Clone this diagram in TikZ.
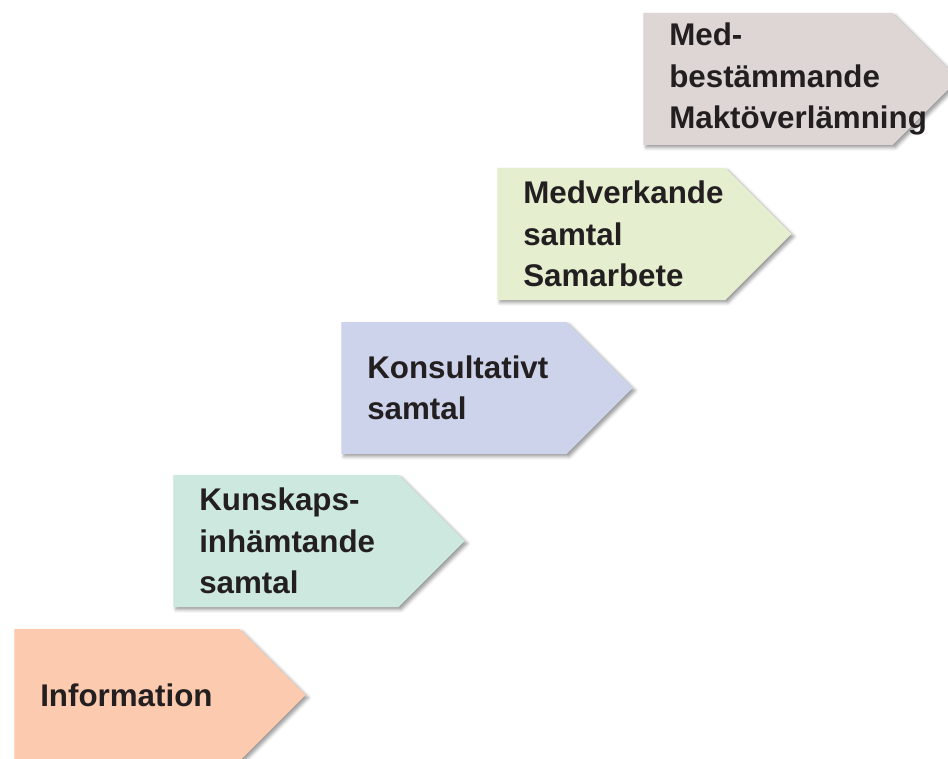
\documentclass[tikz,border=0pt]{standalone}
\usepackage{fontspec}
\setmainfont{Liberation Sans}
\usepackage{tikz}
\usetikzlibrary{shapes.symbols, shadows.blur}

\definecolor{infocolor}{HTML}{FCCAAE}
\definecolor{kunskapcolor}{HTML}{CDE8DF}
\definecolor{konsultcolor}{HTML}{CDD3EA}
\definecolor{medverkcolor}{HTML}{E5EFD0}
\definecolor{bestamcolor}{HTML}{DDD6D4}
\definecolor{textcolor}{HTML}{231F20}

\tikzset{
  stepbox/.style={shape=signal, signal to=east, signal from=nowhere,
    signal pointer angle=90, anchor=west, minimum height=99pt,
    inner xsep=19.5pt, inner ysep=0pt, text width=130pt, align=left,
    text=textcolor, font=\fontsize{23.5}{31}\selectfont\bfseries,
    blur shadow={shadow xshift=2pt, shadow yshift=-2pt,
      shadow blur radius=2.5pt, shadow opacity=40}}
}

\begin{document}
\begin{tikzpicture}[x=0.75pt, y=-0.75pt]

\useasboundingbox ( 0, 0 ) rectangle ( 948, 759 );

% Steps, lowest first
\node (info) at ( 14, 695 ) [stepbox, fill=infocolor] {Information};
\node (kunskap) at ( 173, 541 ) [stepbox, fill=kunskapcolor] {Kunskaps-\\inhämtande\\samtal};
\node (konsult) at ( 341, 388 ) [stepbox, fill=konsultcolor] {Konsultativt\\samtal};
\node (medverk) at ( 497, 234 ) [stepbox, fill=medverkcolor, text width=132pt] {Medverkande\\samtal\\Samarbete};
\node (bestam) at ( 643, 79 ) [stepbox, fill=bestamcolor, text width=148pt] {Med-\\bestämmande\\Maktöverlämning};

\end{tikzpicture}
\end{document}
